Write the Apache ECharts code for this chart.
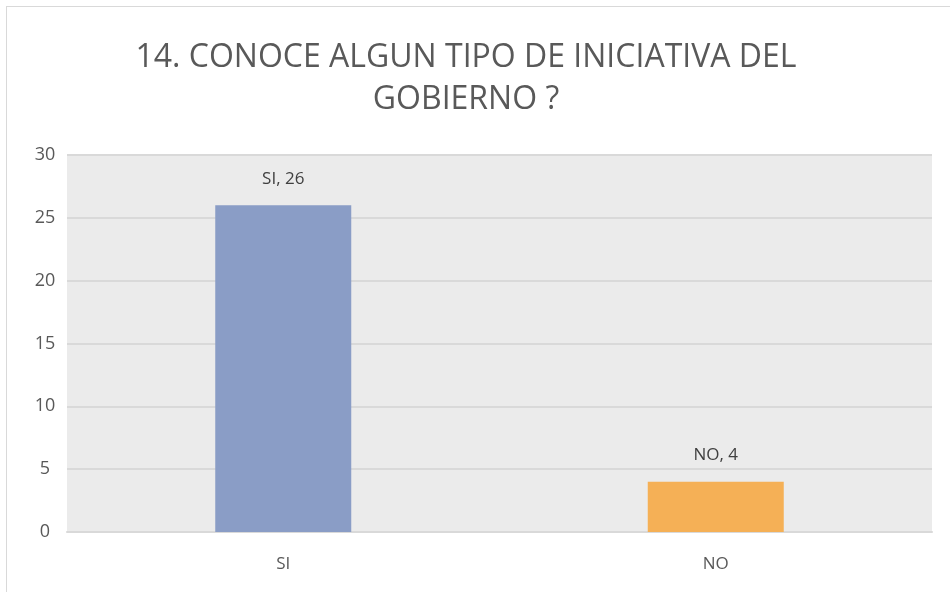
<!DOCTYPE html>
<html>
<head>
<meta charset="utf-8">
<script src="https://cdn.jsdelivr.net/npm/echarts@6/dist/echarts.min.js"></script>
<style>
  html, body { margin: 0; padding: 0; background: #fff; }
  .frame { position: absolute; left: 6px; top: 6px; width: 960px; height: 600px; border: 1px solid #d9d9d9; }
  #chart_main { position: absolute; left: 0; top: 0; width: 950px; height: 592px; }
</style>
</head>
<body>
<div class="frame"></div>
<div id="chart_main"></div>
<script>
  // categories and values
  var categories = ['SI', 'NO'];
  var values = [26, 4];
  var barColors = ['#8a9dc6', '#f5b056'];
  var yTicks = [0, 5, 10, 15, 20, 25, 30];

  var myChart = echarts.init(document.getElementById('chart_main'));
  var option = {
    backgroundColor: 'transparent',
    textStyle: { fontFamily: 'Open Sans' },
    title: {
      text: '14. CONOCE ALGUN TIPO DE INICIATIVA DEL\nGOBIERNO ?',
      left: 461,
      top: 32,
      textAlign: 'center',
      textStyle: {
        color: '#595959',
        fontSize: 32,
        fontWeight: 'normal',
        lineHeight: 42,
        fontFamily: 'Open Sans'
      }
    },
    grid: {
      left: 67,
      right: 18,
      top: 155,
      bottom: 60,
      show: true,
      backgroundColor: '#ebebeb',
      borderWidth: 0
    },
    xAxis: {
      type: 'category',
      data: categories,
      axisTick: { show: false },
      axisLine: { show: true, lineStyle: { color: '#d9d9d9', width: 2 } },
      axisLabel: { color: '#595959', fontSize: 17, margin: 24 }
    },
    yAxis: {
      type: 'value',
      min: yTicks[0],
      max: yTicks[yTicks.length - 1],
      interval: 5,
      axisLine: { show: false },
      axisTick: { show: false },
      axisLabel: { color: '#595959', fontSize: 18, margin: 22, align: 'center' },
      splitLine: { show: true, lineStyle: { color: '#d9d9d9', width: 2 } }
    },
    series: [{
      type: 'bar',
      barWidth: 136,
      data: values.map(function (v, i) {
        return { value: v, itemStyle: { color: barColors[i] } };
      }),
      label: {
        show: true,
        position: 'top',
        distance: 18,
        color: '#404040',
        fontSize: 17,
        formatter: function (p) { return p.name + ', ' + p.value; }
      }
    }]
  };
  myChart.setOption(option);
</script>
</body>
</html>
